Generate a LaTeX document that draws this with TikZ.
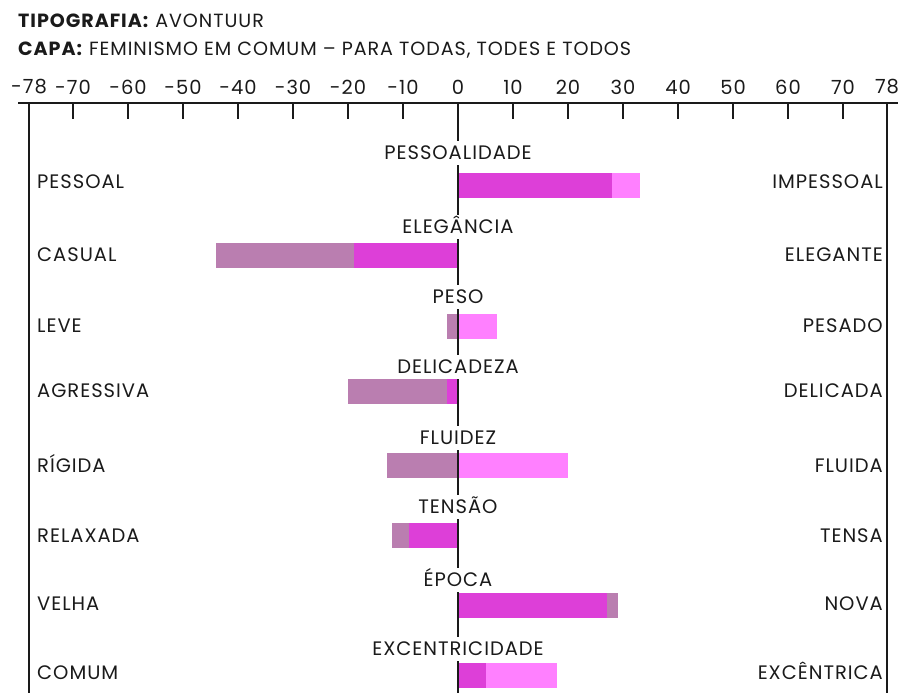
\documentclass[tikz,border=0pt]{standalone}
\usepackage{fontspec}
\setmainfont{Poppins}[LetterSpace=5]
\definecolor{magenta1}{HTML}{DD3FD8}
\definecolor{pink1}{HTML}{FF80FF}
\definecolor{mauve1}{HTML}{BA7EB0}
\definecolor{ink}{HTML}{1A1A1A}
\begin{document}
\begin{tikzpicture}[x=1pt,y=-1pt,
  axisline/.style={ink,line width=1.6pt},
  ticklab/.style={font=\fontsize{19.5}{20}\selectfont,text=ink,inner sep=0pt},
  catlab/.style={font=\fontsize{19.5}{20}\selectfont,text=ink,fill=white,text height=13.6pt,text depth=0pt,inner xsep=1pt,inner ysep=5pt},
  sidelab/.style={font=\fontsize{19.5}{20}\selectfont,text=ink,text height=13.6pt,text depth=0pt,inner sep=0pt},
  titlelab/.style={font=\fontsize{19.1}{20}\selectfont,text=ink,inner sep=0pt,anchor=west},
  bar/.style={draw=none}]
\useasboundingbox (0,0) rectangle (901,693);
\node[titlelab] (t1) at (18,21) {\textbf{TIPOGRAFIA:} AVONTUUR};
\node[titlelab] (t2) at (18,50) {\textbf{CAPA:} FEMINISMO EM COMUM – PARA TODAS, TODES E TODOS};
% bars: x(v)=458+5.5v
\def\bh{12.5}
\newcommand{\seg}[4]{\fill[#1] ({458+5.5*#2},{#4-\bh}) rectangle ({458+5.5*#3},{#4+\bh});}
% 1 pessoalidade
\seg{pink1}{28}{33}{185.5}
\seg{magenta1}{0}{28}{185.5}
% 2 elegancia
\seg{mauve1}{-44}{-19}{255.5}
\seg{magenta1}{-19}{0}{255.5}
% 3 peso
\seg{mauve1}{-2}{0}{326}
\seg{pink1}{0}{7}{326}
% 4 delicadeza
\seg{mauve1}{-20}{-2}{391.5}
\seg{magenta1}{-2}{0}{391.5}
% 5 fluidez
\seg{mauve1}{-13}{0}{465.5}
\seg{pink1}{0}{20}{465.5}
% 6 tensao
\seg{mauve1}{-12}{-9}{535.5}
\seg{magenta1}{-9}{0}{535.5}
% 7 epoca
\seg{magenta1}{0}{27}{605.5}
\seg{mauve1}{27}{29}{605.5}
% 8 excentricidade
\seg{magenta1}{0}{5}{675.5}
\seg{pink1}{5}{18}{675.5}
% axes
\coordinate (hl) at (18,103);
\coordinate (hr) at (898,103);
\draw[axisline] (hl) -- (hr);
\coordinate (lt) at (29,103); \coordinate (lb) at (29,693);
\coordinate (rt) at (887,103); \coordinate (rb) at (887,693);
\coordinate (zt) at (458,103); \coordinate (zb) at (458,693);
\draw[axisline] (lt) -- (lb);
\draw[axisline] (rt) -- (rb);
\draw[axisline] (zt) -- (zb);
\foreach \v in {-70,-60,-50,-40,-30,-20,-10,10,20,30,40,50,60,70}{
  \draw[axisline] ({458+5.5*\v},103) -- ({458+5.5*\v},119);
  \node[ticklab] (tk\v) at ({458+5.5*\v},87) {\v};
}
\node[ticklab] (tk0) at (458,87) {0};
\node[ticklab] (tkm78) at (29,87) {-78};
\node[ticklab] (tk78) at (887,87) {78};
% category labels
\node[catlab] (c1) at (458,153) {PESSOALIDADE};
\node[catlab] (c2) at (458,227) {ELEGÂNCIA};
\node[catlab] (c3) at (458,297) {PESO};
\node[catlab] (c4) at (458,367) {DELICADEZA};
\node[catlab] (c5) at (458,438) {FLUIDEZ};
\node[catlab] (c6) at (458,507) {TENSÃO};
\node[catlab] (c7) at (458,580) {ÉPOCA};
\node[catlab] (c8) at (458,649) {EXCENTRICIDADE};
% side labels
\foreach \n/\y/\l/\r in {1/182/PESSOAL/IMPESSOAL,2/255/CASUAL/ELEGANTE,3/326/LEVE/PESADO,4/391/AGRESSIVA/DELICADA,5/466/RÍGIDA/FLUIDA,6/536/RELAXADA/TENSA,7/604/VELHA/NOVA,8/673/COMUM/EXCÊNTRICA}{
  \node[sidelab,anchor=west] (l\n) at (37,\y) {\l};
  \node[sidelab,anchor=east] (r\n) at (883,\y) {\r};
}
\end{tikzpicture}
\end{document}
